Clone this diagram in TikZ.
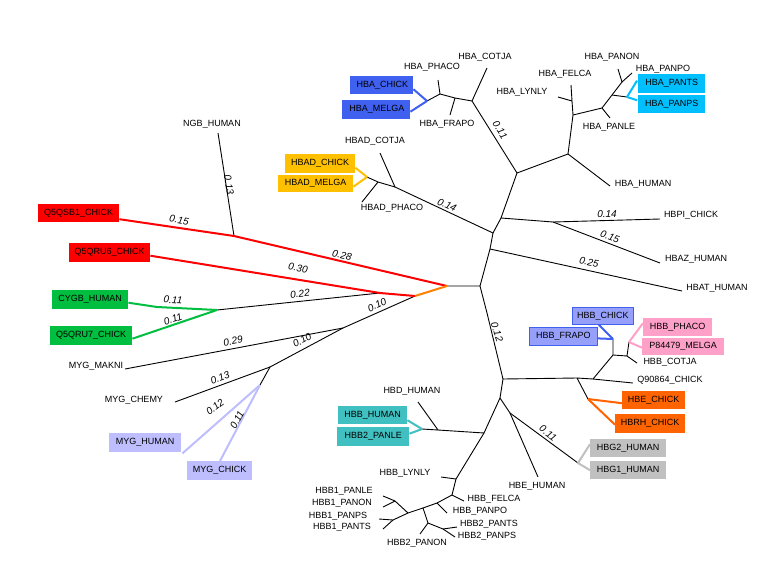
\documentclass[tikz,border=0pt]{standalone}
\usepackage{fontspec}
\setmainfont{Liberation Sans}
\definecolor{cBlue}{RGB}{64,96,240}
\definecolor{cSky}{RGB}{0,191,255}
\definecolor{cYel}{RGB}{255,192,0}
\definecolor{cRed}{RGB}{255,0,0}
\definecolor{cGrn}{RGB}{0,190,64}
\definecolor{cLav}{RGB}{190,190,255}
\definecolor{cPeri}{RGB}{150,160,250}
\definecolor{cPink}{RGB}{255,160,200}
\definecolor{cOrg}{RGB}{255,100,0}
\definecolor{cOrgL}{RGB}{255,128,0}
\definecolor{cGry}{RGB}{192,192,192}
\definecolor{cTeal}{RGB}{64,192,192}
\tikzset{
  br/.style={line width=0.9pt, black},
  cl/.style={line width=2pt},
  lf/.style={font=\fontsize{9}{10}\selectfont, inner sep=0pt},
  bx/.style={font=\fontsize{9}{10}\selectfont, inner sep=0pt, anchor=north west},
  nl/.style={font=\fontsize{10}{11}\selectfont\itshape, inner sep=0pt}
}
\begin{document}
\begin{tikzpicture}[x=1pt,y=-1pt]
\useasboundingbox[fill=white] (0,0) rectangle (774,582);
% ---------- coordinates: backbone
\coordinate (r0) at (480,286);
\coordinate (r1) at (447,286);
\coordinate (a1) at (490,249);
\coordinate (a2) at (493,233);
\coordinate (a3) at (501,218);
\coordinate (a4) at (517,173);
\coordinate (pz) at (553,222);
\coordinate (eHBAT) at (682,291);
\coordinate (eHBPI) at (660,219);
\coordinate (eHBAZ) at (660,263);
% HBAD
\coordinate (d1) at (395,187);
\coordinate (d2) at (378,182);
\coordinate (d3) at (367,177);
\coordinate (eADCOT) at (380,153);
\coordinate (eADPHA) at (362,202);
% HBA
\coordinate (h1) at (472,101);
\coordinate (h2) at (455,98);
\coordinate (h3) at (440,94);
\coordinate (h4) at (427,101);
\coordinate (eACOT) at (487,68);
\coordinate (eAFRA) at (450,115);
\coordinate (eAPHA) at (438,80);
\coordinate (h5) at (568,154);
\coordinate (h6) at (573,115);
\coordinate (h7) at (572,101);
\coordinate (h8) at (602,108);
\coordinate (h9) at (612,95);
\coordinate (h10) at (622,82);
\coordinate (h11) at (627,97);
\coordinate (eAHUM) at (610,186);
\coordinate (eAFEL) at (571,85);
\coordinate (eALYN) at (558,97);
\coordinate (eAPNL) at (610,118);
\coordinate (eAPNN) at (618,69);
\coordinate (eAPNP) at (632,73);
% left
\coordinate (q1) at (234,236);
\coordinate (r2) at (415,296);
\coordinate (r3) at (380,293);
\coordinate (g1) at (217,310);
\coordinate (gmid) at (157,307);
\coordinate (m1) at (343,328);
\coordinate (m2) at (270,367);
\coordinate (m3) at (260,385);
\coordinate (eNGB) at (218,133);
\coordinate (eMAK) at (125,369);
\coordinate (eCHE) at (175,402);
% lower right
\coordinate (b0) at (487,313);
\coordinate (b1) at (503,379);
\coordinate (b2) at (577,378);
\coordinate (b3) at (593,379);
\coordinate (b4) at (613,355);
\coordinate (b5) at (613,339);
\coordinate (c1) at (627,356);
\coordinate (c2) at (629,342);
\coordinate (e1) at (588,399);
\coordinate (b6) at (500,398);
\coordinate (b7) at (510,413);
\coordinate (gg) at (578,463);
\coordinate (eQ9) at (633,383);
\coordinate (eBCOT) at (637,363);
\coordinate (eEHUM) at (538,477);
% bottom cluster
\coordinate (k1) at (484,433);
\coordinate (k2) at (438,430);
\coordinate (k3) at (422,429);
\coordinate (k4) at (456,479);
\coordinate (k5) at (452,495);
\coordinate (k6) at (437,503);
\coordinate (k7) at (423,508);
\coordinate (k8) at (428,523);
\coordinate (k9) at (443,529);
\coordinate (k10) at (408,513);
\coordinate (k11) at (395,501);
\coordinate (k12) at (393,520);
\coordinate (eHBD) at (418,402);
\coordinate (eBLYN) at (441,477);
\coordinate (eBFEL) at (464,501);
\coordinate (eBPNP) at (447,513);
\coordinate (eBtPNN) at (420,534);
\coordinate (eBtPTS) at (457,527);
\coordinate (eBtPPS) at (455,537);
\coordinate (eBoPNL) at (383,496);
\coordinate (eBoPNN) at (383,507);
\coordinate (eBoPPS) at (379,519);
\coordinate (eBoPTS) at (383,529);

% ---------- boxes
\node[bx, fill=cBlue, minimum width=63pt, minimum height=18pt] (bHBAchick) at (350,76) {\,HBA\_CHICK};
\node[bx, fill=cBlue, minimum width=68pt, minimum height=19pt] (bHBAmelga) at (342,100) {\,HBA\_MELGA};
\node[bx, fill=cSky, minimum width=67pt, minimum height=19pt] (bHBApants) at (638,74) {HBA\_PANTS};
\node[bx, fill=cSky, minimum width=67pt, minimum height=18pt] (bHBApanps) at (638,95) {HBA\_PANPS};
\node[bx, fill=cYel, minimum width=70pt, minimum height=19pt] (bHBADchick) at (285,154) {HBAD\_CHICK};
\node[bx, fill=cYel, minimum width=75pt, minimum height=17pt] (bHBADmelga) at (278,175) {HBAD\_MELGA};
\node[bx, fill=cRed, minimum width=81pt, minimum height=18pt] (bQSB) at (38,204) {Q5QSB1\_CHICK};
\node[bx, fill=cRed, minimum width=81pt, minimum height=19pt] (bQRU6) at (69,243) {Q5QRU6\_CHICK};
\node[bx, fill=cGrn, minimum width=76pt, minimum height=19pt] (bCYGB) at (52,290) {CYGB\_HUMAN};
\node[bx, fill=cGrn, minimum width=82pt, minimum height=19pt] (bQRU7) at (50,326) {Q5QRU7\_CHICK};
\node[bx, fill=cLav, minimum width=72pt, minimum height=19pt] (bMYGhum) at (109,433) {MYG\_HUMAN};
\node[bx, fill=cLav, minimum width=65pt, minimum height=19pt] (bMYGchk) at (187,461) {MYG\_CHICK};
\node[bx, fill=cPeri, draw=cBlue, line width=0.8pt, minimum width=61pt, minimum height=17pt] (bHBBchick) at (572,307) {HBB\_CHICK};
\node[bx, fill=cPeri, draw=cBlue, line width=0.8pt, minimum width=68pt, minimum height=18pt] (bHBBfrapo) at (529,327) {HBB\_FRAPO};
\node[bx, fill=cPink, minimum width=69pt, minimum height=18pt] (bHBBphaco) at (643,318) {HBB\_PHACO};
\node[bx, fill=cPink, minimum width=82pt, minimum height=17pt] (bP844) at (642,338) {P84479\_MELGA};
\node[bx, fill=cOrg, minimum width=63pt, minimum height=18pt] (bHBEchk) at (622,391) {HBE\_CHICK};
\node[bx, fill=cOrg, minimum width=70pt, minimum height=19pt] (bHBRH) at (615,414) {HBRH\_CHICK};
\node[bx, fill=cGry, minimum width=76pt, minimum height=18pt] (bHBGtwo) at (590,439) {HBG2\_HUMAN};
\node[bx, fill=cGry, minimum width=76pt, minimum height=18pt] (bHBGone) at (590,461) {HBG1\_HUMAN};
\node[bx, fill=cTeal, minimum width=69pt, minimum height=18pt] (bHBBhum) at (338,406) {HBB\_HUMAN};
\node[bx, fill=cTeal, minimum width=72pt, minimum height=19pt] (bHBBpanle) at (337,427) {HBB2\_PANLE};

% ---------- black branches
\draw[br] (r1) -- (r0) -- (a1) -- (a2) -- (a3) -- (a4);
\draw[br] (a1) -- (eHBAT);
\draw[br] (a3) -- (pz) -- (eHBPI);
\draw[br] (pz) -- (eHBAZ);
\draw[br] (a2) -- (d1) -- (d2) -- (d3);
\draw[br] (d1) -- (eADCOT);
\draw[br] (d2) -- (eADPHA);
\draw[br] (a4) -- (h1) -- (h2) -- (h3) -- (h4);
\draw[br] (h1) -- (eACOT);
\draw[br] (h2) -- (eAFRA);
\draw[br] (h3) -- (eAPHA);
\draw[br] (a4) -- (h5) -- (eAHUM);
\draw[br] (h5) -- (h6) -- (h7) -- (eAFEL);
\draw[br] (h7) -- (eALYN);
\draw[br] (h6) -- (h8) -- (eAPNL);
\draw[br] (h8) -- (h9) -- (h10) -- (eAPNN);
\draw[br] (h10) -- (eAPNP);
\draw[br] (h9) -- (h11);
\draw[br] (q1) -- (eNGB);
\draw[br] (r3) -- (g1);
\draw[br] (r2) -- (m1) -- (m2) -- (m3);
\draw[br] (m1) -- (eMAK);
\draw[br] (m2) -- (eCHE);
\draw[br] (r0) -- (b0) -- (b1) -- (b2) -- (b3) -- (eQ9);
\draw[br] (b3) -- (b4) -- (b5);
\draw[br] (b4) -- (c1) -- (c2);
\draw[br] (c1) -- (eBCOT);
\draw[br] (b2) -- (e1);
\draw[br] (b1) -- (b6) -- (b7) -- (eEHUM);
\draw[br] (b7) -- (gg);
\draw[br] (b6) -- (k1) -- (k2) -- (k3);
\draw[br] (k2) -- (eHBD);
\draw[br] (k1) -- (k4) -- (k5) -- (k6) -- (k7) -- (k8) -- (k9) -- (eBtPTS);
\draw[br] (k9) -- (eBtPPS);
\draw[br] (k8) -- (eBtPNN);
\draw[br] (k4) -- (eBLYN);
\draw[br] (k5) -- (eBFEL);
\draw[br] (k6) -- (eBPNP);
\draw[br] (k7) -- (k10) -- (k11) -- (eBoPNL);
\draw[br] (k11) -- (eBoPNN);
\draw[br] (k10) -- (k12) -- (eBoPPS);
\draw[br] (k12) -- (eBoPTS);

% ---------- coloured branches
\draw[cl, cRed] ([yshift=-6pt]bQSB.east) -- (q1) -- (r1);
\draw[cl, cRed] ([yshift=-3pt]bQRU6.east) -- (r3) -- (r2);
\draw[cl, cOrgL] (r2) -- (r1);
\draw[cl, cGrn] ([yshift=-3pt]bCYGB.east) -- (gmid) -- (g1);
\draw[cl, cGrn] ([yshift=-3pt]bQRU7.east) -- (g1);
\draw[cl, cLav] ([xshift=1pt,yshift=-1pt]bMYGhum.south east) -- (m3);
\draw[cl, cLav] ([xshift=33pt]bMYGchk.north west) -- (m3);
\draw[cl, cBlue] ([yshift=-4pt]bHBAchick.east) -- (h4);
\draw[cl, cBlue] ([yshift=-2pt]bHBAmelga.east) -- (h4);
\draw[cl, cSky] ([xshift=-1pt,yshift=3pt]bHBApants.west) -- (h11);
\draw[cl, cSky] ([xshift=-1pt,yshift=4pt]bHBApanps.west) -- (h11);
\draw[cl, cYel] ([yshift=-4pt]bHBADchick.east) -- (d3);
\draw[cl, cYel] ([yshift=-3pt]bHBADmelga.east) -- (d3);
\draw[cl, cBlue] ([xshift=-4pt]bHBBchick.south) -- (b5);
\draw[cl, cBlue] ([yshift=-2pt]bHBBfrapo.east) -- (b5);
\draw[cl, cPink] ([yshift=4pt]bHBBphaco.west) -- (c2);
\draw[cl, cPink] ([yshift=-1pt]bP844.west) -- (c2);
\draw[cl, cOrg] ([yshift=-3pt]bHBEchk.west) -- (e1);
\draw[cl, cOrg] ([yshift=-1pt]bHBRH.west) -- (e1);
\draw[cl, cGry] ([yshift=4pt]bHBGtwo.west) -- (gg);
\draw[cl, cGry] ([yshift=0pt]bHBGone.west) -- (gg);
\draw[cl, cTeal] ([yshift=-5pt]bHBBhum.east) -- (k3);
\draw[cl, cTeal] ([yshift=3pt]bHBBpanle.east) -- (k3);

% ---------- leaf labels
\node[lf] (tACOT) at (485,57) {HBA\_COTJA};
\node[lf] (tAPHA) at (432,67) {HBA\_PHACO};
\node[lf] (tAFRA) at (447,124) {HBA\_FRAPO};
\node[lf] (tAPNN) at (612,57) {HBA\_PANON};
\node[lf] (tAPNP) at (663,69) {HBA\_PANPO};
\node[lf] (tAFEL) at (565,74) {HBA\_FELCA};
\node[lf] (tALYN) at (522,92) {HBA\_LYNLY};
\node[lf] (tAPNL) at (609,127) {HBA\_PANLE};
\node[lf] (tAHUM) at (643,184) {HBA\_HUMAN};
\node[lf] (tNGB) at (212,124) {NGB\_HUMAN};
\node[lf] (tADCOT) at (375,141) {HBAD\_COTJA};
\node[lf] (tADPHA) at (392,208) {HBAD\_PHACO};
\node[lf] (tHBPI) at (691,215) {HBPI\_CHICK};
\node[lf] (tHBAZ) at (696,259) {HBAZ\_HUMAN};
\node[lf] (tHBAT) at (717,288) {HBAT\_HUMAN};
\node[lf] (tMAK) at (96,366) {MYG\_MAKNI};
\node[lf] (tCHE) at (134,400) {MYG\_CHEMY};
\node[lf] (tBCOT) at (670,362) {HBB\_COTJA};
\node[lf] (tQ9) at (670,380) {Q90864\_CHICK};
\node[lf] (tHBD) at (412,391) {HBD\_HUMAN};
\node[lf] (tBLYN) at (405,473) {HBB\_LYNLY};
\node[lf] (tBFEL) at (494,499) {HBB\_FELCA};
\node[lf] (tBPNP) at (480,511) {HBB\_PANPO};
\node[lf] (tBtPTS) at (489,524) {HBB2\_PANTS};
\node[lf] (tBtPPS) at (487,536) {HBB2\_PANPS};
\node[lf] (tBtPNN) at (417,543) {HBB2\_PANON};
\node[lf] (tBoPNL) at (344,491) {HBB1\_PANLE};
\node[lf] (tBoPNN) at (342,503) {HBB1\_PANON};
\node[lf] (tBoPPS) at (338,516) {HBB1\_PANPS};
\node[lf] (tBoPTS) at (342,527) {HBB1\_PANTS};
\node[lf] (tEHUM) at (537,486) {HBE\_HUMAN};

% ---------- branch lengths
\node[nl, rotate=-58] (l1) at (500,130) {0.11};
\node[nl, rotate=-25] (l2) at (447,205) {0.14};
\node[nl] (l3) at (607,214) {0.14};
\node[nl, rotate=-20] (l4) at (610,237) {0.15};
\node[nl, rotate=-12] (l5) at (589,262) {0.25};
\node[nl, rotate=-81] (l6) at (229,185) {0.13};
\node[nl, rotate=-10] (l7) at (179,220) {0.15};
\node[nl, rotate=-13] (l8) at (342,255) {0.28};
\node[nl, rotate=-9] (l9) at (298,268) {0.30};
\node[nl, rotate=6] (l10) at (300,294) {0.22};
\node[nl, rotate=-4] (l11) at (173,300) {0.11};
\node[nl, rotate=18] (l12) at (173,319) {0.11};
\node[nl, rotate=11] (l13) at (233,341) {0.29};
\node[nl, rotate=24] (l14) at (377,305) {0.10};
\node[nl, rotate=28] (l15) at (302,340) {0.10};
\node[nl, rotate=20] (l16) at (220,378) {0.13};
\node[nl, rotate=37] (l17) at (215,407) {0.12};
\node[nl, rotate=62] (l18) at (237,420) {0.11};
\node[nl, rotate=-72] (l19) at (497,332) {0.12};
\node[nl, rotate=-38] (l20) at (548,433) {0.11};
\end{tikzpicture}
\end{document}
